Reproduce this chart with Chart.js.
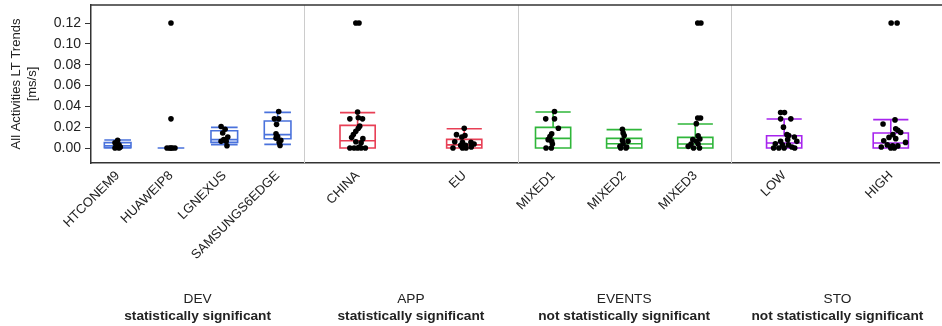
<!DOCTYPE html>
<html>
<head>
<meta charset="utf-8">
<script src="https://cdn.jsdelivr.net/npm/chart.js@4.4.1/dist/chart.umd.min.js"></script>
<style>
html, body { margin: 0; padding: 0; background: #fff; overflow: hidden; }
#wrap { position: relative; width: 942px; height: 326px; }
.ptitle { position: absolute; top: 290px; transform: translateX(-50%); text-align: center; white-space: nowrap;
  font-family: "Liberation Sans", Arial, sans-serif; font-size: 13.7px; line-height: 17px; color: #222; }
.ptitle b { display: block; }
</style>
</head>
<body>
<div id="wrap"><canvas id="c" width="942" height="326"></canvas></div>
<script>
// panels and categories
var panels = ['DEV', 'APP', 'EVENTS', 'STO'];
var panelNotes = ['statistically significant', 'statistically significant', 'not statistically significant', 'not statistically significant'];
var categories = ['HTCONEM9', 'HUAWEIP8', 'LGNEXUS', 'SAMSUNGS6EDGE', 'CHINA', 'EU', 'MIXED1', 'MIXED2', 'MIXED3', 'LOW', 'HIGH'];
var categoryPanel = [0, 0, 0, 0, 1, 1, 2, 2, 2, 3, 3];

// box statistics
var whiskerLow  = [0,      0, 0.0032, 0.0035, 0,      0,      0,      0,      0,      0,      0];
var q1          = [0.0003, 0, 0.0054, 0.0089, 0,      0,      0,      0,      0,      0,      0];
var median      = [0.002,  0, 0.008,  0.0128, 0.007,  0.003,  0.0092, 0.0041, 0.0038, 0.0048, 0.0048];
var q3          = [0.0052, 0, 0.0166, 0.0259, 0.0217, 0.0083, 0.0198, 0.0092, 0.0102, 0.0118, 0.0144];
var whiskerHigh = [0.0077, 0, 0.0198, 0.0342, 0.034,  0.0185, 0.0345, 0.0176, 0.023,  0.0278, 0.0272];

// observations (value) and horizontal jitter (fraction of box width)
var pointValues = [
  [0.0075, 0.005, 0.003, 0.002, 0.001, 0, 0],
  [0.12, 0.028, 0, 0, 0, 0, 0],
  [0.0207, 0.018, 0.0144, 0.0105, 0.008, 0.0064, 0.0064, 0.0022],
  [0.035, 0.028, 0.028, 0.0227, 0.0137, 0.0111, 0.0095, 0.0073, 0.0054, 0.0025],
  [0.12, 0.12, 0.0345, 0.028, 0.029, 0.028, 0.021, 0.019, 0.016, 0.013, 0.010, 0.009, 0.006, 0.005, 0, 0, 0, 0, 0, 0.001],
  [0.019, 0.0128, 0.012, 0.0105, 0.006, 0.0054, 0.0054, 0.0025, 0.0025, 0.0038, 0, 0, 0, 0.001],
  [0.035, 0.028, 0.028, 0.019, 0.0137, 0.0111, 0.008, 0.0064, 0.0038, 0, 0],
  [0.018, 0.0144, 0.012, 0.0073, 0.0064, 0.0041, 0.0016, 0.001, 0, 0],
  [0.12, 0.12, 0.0288, 0.0288, 0.0234, 0.0118, 0.008, 0.0086, 0.0064, 0.0038, 0.0038, 0.0016, 0, 0],
  [0.034, 0.034, 0.028, 0.028, 0.02, 0.0128, 0.012, 0.0105, 0.008, 0.0064, 0.0064, 0.004, 0.003, 0.003, 0.001, 0, 0, 0, 0],
  [0.12, 0.12, 0.027, 0.023, 0.0185, 0.017, 0.015, 0.0128, 0.0102, 0.009, 0.007, 0.0054, 0.003, 0.002, 0.002, 0.001, 0, 0]
];
var pointJitter = [
  [0, -0.1, 0.05, -0.05, 0.1, -0.1, 0.05],
  [0, 0, -0.15, -0.05, 0.05, 0.15, 0],
  [-0.12, 0.03, -0.06, 0.13, -0.02, -0.12, 0.07, 0.1],
  [0.04, -0.12, 0.04, -0.04, -0.06, 0, -0.06, 0.12, 0.06, 0.09],
  [-0.05, 0.04, 0, -0.22, 0.02, 0.14, 0.06, 0.02, -0.05, -0.12, -0.17, 0.15, -0.05, 0.1, -0.22, -0.1, 0, 0.1, 0.22, 0.05],
  [0, -0.22, 0.02, -0.07, -0.27, -0.05, 0.19, -0.1, 0.04, 0.28, -0.32, -0.05, 0.05, 0.2],
  [0.04, -0.21, 0.04, 0.15, -0.04, -0.09, -0.14, -0.04, -0.02, -0.2, -0.05],
  [-0.05, -0.03, 0, -0.05, 0.11, -0.03, -0.12, 0.07, -0.1, 0.05],
  [0.07, 0.16, 0.07, 0.15, 0.03, 0.08, -0.07, 0.13, 0.03, -0.12, 0.08, -0.2, -0.05, 0.12],
  [-0.1, 0.01, -0.1, 0.19, -0.02, 0.08, 0.13, 0.29, 0.1, -0.1, 0.36, -0.25, -0.05, 0.12, 0.22, -0.15, 0, -0.3, 0.3],
  [0.01, 0.18, 0.12, -0.22, 0.14, 0.2, 0.28, 0.06, -0.05, 0.14, -0.2, 0.42, -0.1, 0.05, 0.2, -0.27, 0, 0.1]
];

var yTickValues = [0, 0.02, 0.04, 0.06, 0.08, 0.10, 0.12];
var yTickLabels = ['0.00', '0.02', '0.04', '0.06', '0.08', '0.10', '0.12'];

// styles
var panelColors = ['#4a72dc', '#e83f55', '#2fb63a', '#a724ee'];
var boxWidth = [0.125, 0.165, 0.165, 0.165];   // in panel units
var FONT = '"Liberation Sans", Arial, sans-serif';

// x position of each category: panel k spans [k, k+1]
var catX = categories.map(function (c, i) {
  var k = categoryPanel[i];
  var members = [];
  categoryPanel.forEach(function (p, j) { if (p === k) members.push(j); });
  return k + (members.indexOf(i) + 0.5) / members.length;
});

var points = [];
pointValues.forEach(function (vals, i) {
  vals.forEach(function (v, j) {
    points.push({ x: catX[i] + pointJitter[i][j] * boxWidth[categoryPanel[i]], y: v });
  });
});

var boxPlugin = {
  id: 'boxes',
  beforeDatasetsDraw: function (chart) {
    var ctx = chart.ctx, x = chart.scales.x, y = chart.scales.y, a = chart.chartArea;
    ctx.save();
    // panel separators
    ctx.strokeStyle = '#cccccc';
    ctx.lineWidth = 1;
    for (var k = 1; k < panels.length; k++) {
      var px = Math.round(x.getPixelForValue(k)) + 0.5;
      ctx.beginPath(); ctx.moveTo(px, a.top); ctx.lineTo(px, a.bottom); ctx.stroke();
    }
    // boxes
    ctx.lineWidth = 1.6;
    categories.forEach(function (c, i) {
      var hw = boxWidth[categoryPanel[i]] / 2;
      var l = x.getPixelForValue(catX[i] - hw), r = x.getPixelForValue(catX[i] + hw), m = x.getPixelForValue(catX[i]);
      var yq1 = y.getPixelForValue(q1[i]), yq3 = y.getPixelForValue(q3[i]);
      var ymd = y.getPixelForValue(median[i]);
      var ylo = y.getPixelForValue(whiskerLow[i]), yhi = y.getPixelForValue(whiskerHigh[i]);
      ctx.strokeStyle = panelColors[categoryPanel[i]];
      ctx.beginPath();
      ctx.rect(l, yq3, r - l, yq1 - yq3);
      ctx.moveTo(l, ymd); ctx.lineTo(r, ymd);
      ctx.moveTo(m, yq3); ctx.lineTo(m, yhi);
      ctx.moveTo(m, yq1); ctx.lineTo(m, ylo);
      ctx.moveTo(l, yhi); ctx.lineTo(r, yhi);
      ctx.moveTo(l, ylo); ctx.lineTo(r, ylo);
      ctx.stroke();
    });
    ctx.restore();
  },
  afterDraw: function (chart) {
    var ctx = chart.ctx, a = chart.chartArea;
    ctx.save();
    ctx.strokeStyle = '#333333';
    ctx.lineWidth = 1.5;
    ctx.beginPath(); ctx.moveTo(a.left, a.top); ctx.lineTo(chart.width, a.top); ctx.stroke();
    ctx.restore();
  }
};

var chart = new Chart(document.getElementById('c'), {
  type: 'scatter',
  data: {
    datasets: [{
      data: points,
      backgroundColor: '#000',
      borderWidth: 0,
      pointRadius: 2.8,
      pointHoverRadius: 2.8
    }]
  },
  options: {
    responsive: false,
    animation: false,
    events: [],
    layout: { padding: { top: 5, right: 0, bottom: 0, left: 0 } },
    plugins: { legend: { display: false }, tooltip: { enabled: false } },
    scales: {
      x: {
        type: 'linear',
        min: 0,
        max: 3.977,
        afterBuildTicks: function (scale) {
          scale.ticks = catX.map(function (v) { return { value: v }; });
        },
        afterFit: function (scale) {
          scale.height = 163;
          scale.paddingLeft = 0; scale.paddingRight = 0;
        },
        grid: { display: false, drawTicks: false },
        border: { display: true, color: '#333', width: 1.5 },
        ticks: {
          autoSkip: false,
          minRotation: 45,
          maxRotation: 45,
          padding: 5,
          color: '#222',
          font: { family: FONT, size: 13 },
          callback: function (v, i) { return categories[i]; }
        }
      },
      y: {
        min: -0.0144,
        max: 0.1373,
        afterBuildTicks: function (scale) {
          scale.ticks = yTickValues.map(function (v) { return { value: v }; });
        },
        afterFit: function (scale) {
          scale.width = 91;
          scale.paddingTop = 0; scale.paddingBottom = 0;
        },
        grid: { drawOnChartArea: false, tickLength: 6, tickColor: '#333', tickWidth: 1 },
        border: { display: true, color: '#333', width: 1.5 },
        ticks: {
          padding: 4,
          color: '#222',
          font: { family: FONT, size: 14 },
          callback: function (v, i) { return yTickLabels[i]; }
        },
        title: {
          display: true,
          text: ['All Activities LT Trends', '[ms/s]'],
          color: '#222',
          font: { family: FONT, size: 13 },
          padding: { top: 9, bottom: 0 }
        }
      }
    }
  },
  plugins: [boxPlugin]
});

var wrap = document.getElementById('wrap');
panels.forEach(function (p, k) {
  var d = document.createElement('div');
  d.className = 'ptitle';
  d.style.left = chart.scales.x.getPixelForValue(k + 0.5) + 'px';
  d.innerHTML = p + '<b>' + panelNotes[k] + '</b>';
  wrap.appendChild(d);
});
</script>
</body>
</html>
